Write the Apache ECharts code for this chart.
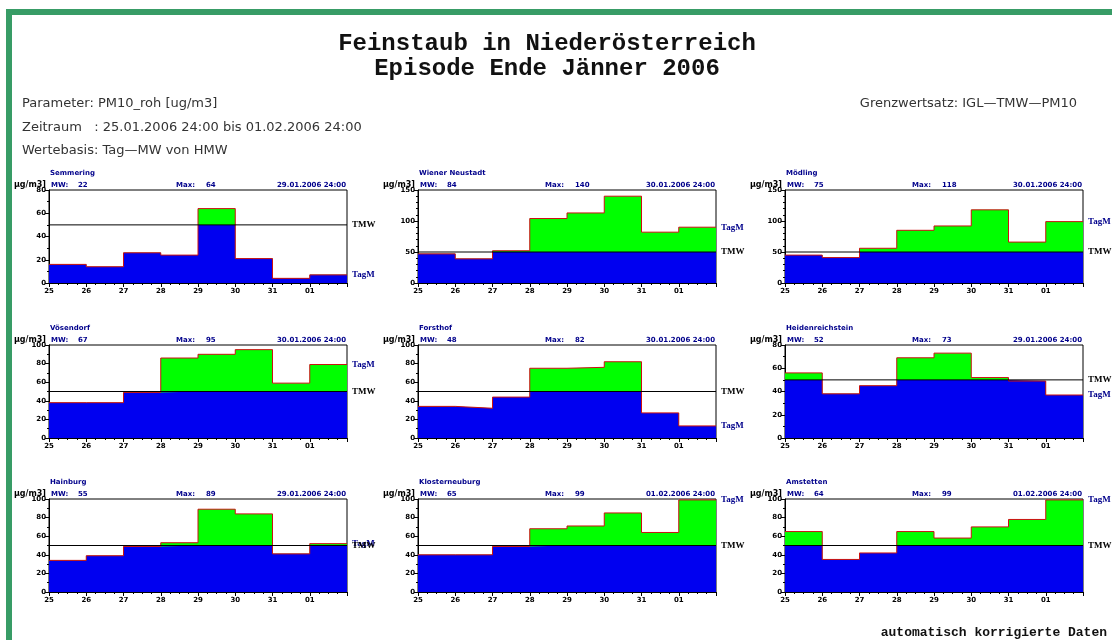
<!DOCTYPE html>
<html><head><meta charset="utf-8">
<script src="https://cdn.jsdelivr.net/npm/echarts@6/dist/echarts.min.js"></script>
<style>html,body{margin:0;padding:0;background:#fff}#c{width:1112px;height:640px}</style>
</head><body><div id="c"></div>
<script>
// ---- data ----
const stations = ['Semmering','Wiener Neustadt','Mödling','Vösendorf','Forsthof','Heidenreichstein','Hainburg','Klosterneuburg','Amstetten'];
const dayLabels = ['25','26','27','28','29','30','31','01'];
const semmering        = [16, 14, 26, 24, 64, 21, 4, 7];
const wienerNeustadt   = [47, 39, 52, 104, 113, 140, 82, 90];
const moedling         = [45, 41, 56, 85, 92, 118, 66, 99];
const voesendorf       = [38, 38, 49, 86, 90, 95, 59, 79];
const forsthof         = [34, 32, 44, 75, 76, 82, 27, 13];
const heidenreichstein = [56, 38, 45, 69, 73, 52, 49, 37];
const hainburg         = [34, 39, 49, 53, 89, 84, 41, 52];
const klosterneuburg   = [40, 40, 49, 68, 71, 85, 64, 99];
const amstetten        = [65, 35, 42, 65, 58, 70, 78, 99];
const mwValues  = [22, 84, 75, 67, 48, 52, 55, 65, 64];
const maxValues = [64, 140, 118, 95, 82, 73, 89, 99, 99];
const maxDates  = ['29.01.2006 24:00','30.01.2006 24:00','30.01.2006 24:00','30.01.2006 24:00','30.01.2006 24:00','29.01.2006 24:00','29.01.2006 24:00','01.02.2006 24:00','01.02.2006 24:00'];
const yMax  = [80, 150, 150, 100, 100, 80, 100, 100, 100];
const yStep = [20, 50, 50, 20, 20, 20, 20, 20, 20];
const limitTMW = 50;
const stationValues = [semmering, wienerNeustadt, moedling, voesendorf, forsthof, heidenreichstein, hainburg, klosterneuburg, amstetten];

// ---- layout ----
const colLeft = [49, 418, 785], rowTop = [190, 345, 499], PW = 298, PH = 93;
const BLUE = '#0000f0', GREEN = '#00ff00', RED = '#cc1010', NAVY = '#00008b';
const smallFont = 'bold 7px "DejaVu Sans"';

const chart = echarts.init(document.getElementById('c'), null, {renderer: 'canvas'});
const grids = [], xAxes = [], yAxes = [], series = [], graphics = [];
const pts = arr => arr.map((v, i) => [i, v]).concat([[arr.length, arr[arr.length - 1]]]);

for (let k = 0; k < 9; k++) {
  const c = k % 3, r = Math.floor(k / 3);
  const L = colLeft[c], T = rowTop[r];
  const vals = stationValues[k];
  grids.push({left: L, top: T, width: PW, height: PH, show: true, borderColor: '#000', borderWidth: 1,
    backgroundColor: '#fff', containLabel: false, outerBoundsMode: 'none'});
  xAxes.push({gridIndex: k, type: 'value', min: 0, max: dayLabels.length, interval: 1,
    axisLine: {show: true, lineStyle: {color: '#000', width: 1}},
    axisTick: {show: true, length: 4, lineStyle: {color: '#000'}},
    minorTick: {show: true, splitNumber: 4, length: 2, lineStyle: {color: '#000'}},
    splitLine: {show: false}, minorSplitLine: {show: false},
    axisLabel: {fontSize: 7, fontWeight: 'bold', fontFamily: 'DejaVu Sans', color: '#000', margin: 5,
      formatter: v => (dayLabels[v] !== undefined ? dayLabels[v] : '')}});
  yAxes.push({gridIndex: k, type: 'value', min: 0, max: yMax[k], interval: yStep[k],
    axisLine: {show: true, lineStyle: {color: '#000', width: 1}},
    axisTick: {show: true, length: 4, lineStyle: {color: '#000'}},
    minorTick: {show: true, splitNumber: yStep[k] / 10, length: 2, lineStyle: {color: '#000'}},
    splitLine: {show: false}, minorSplitLine: {show: false},
    axisLabel: {fontSize: 7, fontWeight: 'bold', fontFamily: 'DejaVu Sans', color: '#000', margin: 3}});
  const common = {type: 'line', xAxisIndex: k, yAxisIndex: k, step: 'end', symbol: 'none', silent: true, animation: false};
  series.push(Object.assign({}, common, {name: stations[k] + ' >TMW', data: pts(vals),
    lineStyle: {width: 0, opacity: 0}, areaStyle: {color: GREEN, opacity: 1}, z: 2}));
  series.push(Object.assign({}, common, {name: stations[k] + ' <=TMW', data: pts(vals.map(v => Math.min(v, limitTMW))),
    lineStyle: {width: 0, opacity: 0}, areaStyle: {color: BLUE, opacity: 1}, z: 3}));
  series.push(Object.assign({}, common, {name: stations[k] + ' TagM', data: pts(vals),
    lineStyle: {color: RED, width: 1}, z: 4,
    endLabel: {show: true, formatter: 'TagM', color: NAVY, fontFamily: 'Liberation Serif', fontWeight: 'bold', fontSize: 9, distance: 5}}));
  series.push(Object.assign({}, common, {name: stations[k] + ' TMW', step: false, data: [[0, limitTMW], [dayLabels.length, limitTMW]],
    lineStyle: {color: '#000', width: 1}, z: 5,
    endLabel: {show: true, formatter: 'TMW', color: '#000', fontFamily: 'Liberation Serif', fontWeight: 'bold', fontSize: 9, distance: 5}}));

  // panel texts
  graphics.push({type: 'text', x: L + 1, y: T - 17, style: {text: stations[k], font: smallFont, fill: NAVY, verticalAlign: 'middle'}});
  graphics.push({type: 'text', x: L + 2, y: T - 1, style: {text: 'MW:', font: smallFont, fill: NAVY, verticalAlign: 'bottom'}});
  graphics.push({type: 'text', x: L + 29, y: T - 1, style: {text: String(mwValues[k]), font: smallFont, fill: NAVY, verticalAlign: 'bottom'}});
  graphics.push({type: 'text', x: L + 127, y: T - 1, style: {text: 'Max:', font: smallFont, fill: NAVY, verticalAlign: 'bottom'}});
  graphics.push({type: 'text', x: L + 157, y: T - 1, style: {text: String(maxValues[k]), font: smallFont, fill: NAVY, verticalAlign: 'bottom'}});
  graphics.push({type: 'text', x: L + PW - 1, y: T - 1, style: {text: maxDates[k], font: smallFont, fill: NAVY, align: 'right', verticalAlign: 'bottom'}});
  graphics.push({type: 'text', x: L - 3, y: T - 1, style: {text: 'µg/m3]', font: 'bold 8px "DejaVu Sans"', fill: '#000', align: 'right', verticalAlign: 'bottom'}});
}

// page texts
const titleFont = 'bold 24px "Liberation Mono"';
const headFont = '13px "DejaVu Sans"';
graphics.push({type: 'text', x: 547, y: 44, style: {text: 'Feinstaub in Niederösterreich', font: titleFont, fill: '#111', align: 'center', verticalAlign: 'middle'}});
graphics.push({type: 'text', x: 547, y: 69, style: {text: 'Episode Ende Jänner 2006', font: titleFont, fill: '#111', align: 'center', verticalAlign: 'middle'}});
graphics.push({type: 'text', x: 22, y: 104, style: {text: 'Parameter: PM10_roh [ug/m3]', font: headFont, fill: '#333', verticalAlign: 'middle'}});
graphics.push({type: 'text', x: 22, y: 128, style: {text: 'Zeitraum   : 25.01.2006 24:00 bis 01.02.2006 24:00', font: headFont, fill: '#333', verticalAlign: 'middle'}});
graphics.push({type: 'text', x: 22, y: 151, style: {text: 'Wertebasis: Tag—MW von HMW', font: headFont, fill: '#333', verticalAlign: 'middle'}});
graphics.push({type: 'text', x: 1077, y: 104, style: {text: 'Grenzwertsatz: IGL—TMW—PM10', font: headFont, fill: '#333', align: 'right', verticalAlign: 'middle'}});
graphics.push({type: 'text', x: 1107, y: 633, style: {text: 'automatisch korrigierte Daten', font: 'bold 13px "Liberation Mono"', fill: '#111', align: 'right', verticalAlign: 'middle'}});
// frame
graphics.push({type: 'rect', z: 100, shape: {x: 6, y: 9, width: 1106, height: 6}, style: {fill: '#389c66'}});
graphics.push({type: 'rect', z: 100, shape: {x: 6, y: 9, width: 6, height: 631}, style: {fill: '#389c66'}});

chart.setOption({
  animation: false,
  backgroundColor: '#fff',
  grid: grids, xAxis: xAxes, yAxis: yAxes, series: series,
  graphic: graphics
});
</script></body></html>
